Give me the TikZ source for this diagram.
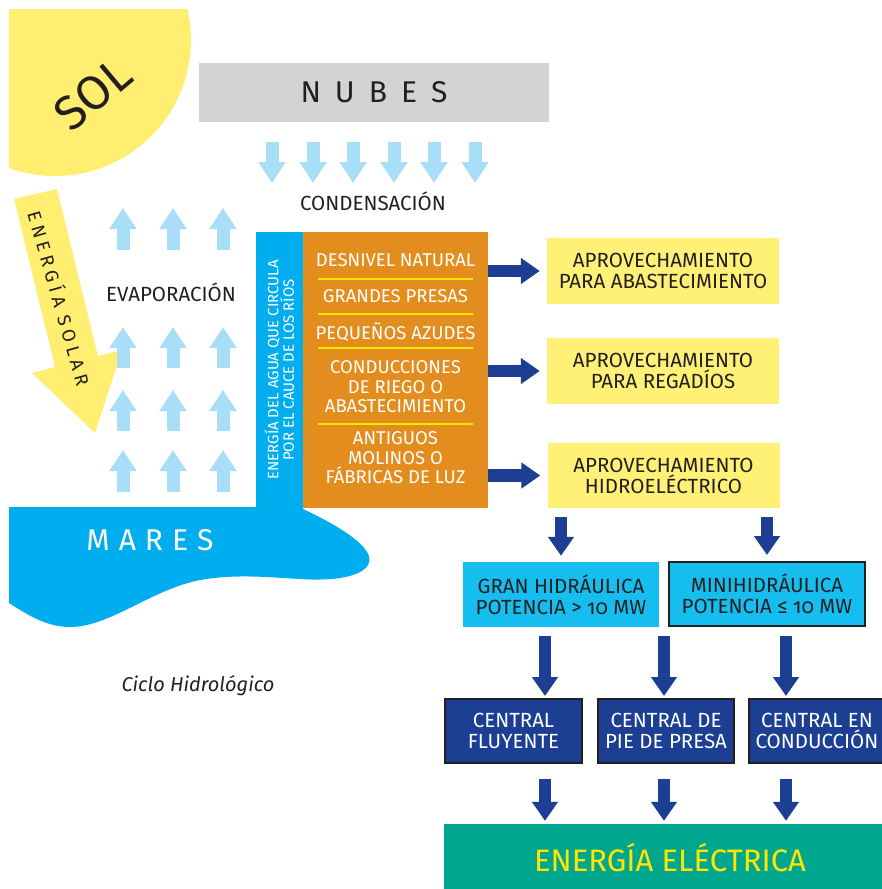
\documentclass[tikz,border=0pt]{standalone}
\usepackage{fontspec}
\setmainfont{Fira Sans}[Numbers=OldStyle]
\usetikzlibrary{arrows.meta}

\definecolor{sunyellow}{RGB}{255,238,112}
\definecolor{cloudgray}{RGB}{209,211,212}
\definecolor{skyblue}{RGB}{168,222,248}
\definecolor{riverblue}{RGB}{0,174,239}
\definecolor{usesorange}{RGB}{227,141,30}
\definecolor{lineyellow}{RGB}{255,230,0}
\definecolor{darkblue}{RGB}{28,63,148}
\definecolor{boxyellow}{RGB}{255,241,118}
\definecolor{hydroblue}{RGB}{22,190,240}
\definecolor{elecgreen}{RGB}{0,167,142}
\definecolor{textdark}{RGB}{35,31,32}

\newcommand{\lblfont}{\fontsize{20.5}{21}\selectfont}
\newcommand{\usofont}{\fontsize{18.5}{19.5}\selectfont}
\newcommand{\lsp}{\kern14pt}

\begin{document}
\begin{tikzpicture}[x=1pt,y=-1pt,
    lbl/.style={align=center,text=textdark,font=\lblfont},
    box/.style={lbl,rectangle,inner sep=0pt},
    uso/.style={align=center,text=white,font=\usofont},
    usebox/.style={box,fill=boxyellow,minimum width=232pt,minimum height=66pt},
    plantbox/.style={box,fill=darkblue,draw=textdark,line width=2pt,text=white,minimum height=64pt},
    sep/.style={draw=lineyellow,line width=2.5pt},
    bigarrow/.style={draw=darkblue,line width=12.5pt,-{Triangle[width=25pt,length=19pt]}},
    skyarrow/.style={draw=skyblue,line width=13pt,-{Triangle[width=26pt,length=21pt]}}]
        \useasboundingbox (0,0) rectangle (882,889);
        % sol
        \begin{scope}
        \clip (9,9) rectangle (882,889);
        \fill[sunyellow] (55,40) circle (136pt);
        \end{scope}
        \node[rotate=40,text=textdark,font=\fontsize{48}{48}\selectfont] (sol) at (93,94) {SOL};
        % energia solar
        \fill[sunyellow] (14,199) -- (57,189) -- (98,356) -- (122,350) -- (95,433) -- (32,373) -- (55,367) -- cycle;
        \node[rotate=-74,text=textdark,font=\fontsize{18.5}{18.5}\selectfont\addfontfeatures{LetterSpace=25}] (esolar) at (60,298) {ENERGÍA SOLAR};
        % nubes
        \node[box,fill=cloudgray,minimum width=350pt,minimum height=59pt,font=\fontsize{30}{30}\selectfont] (nubes) at (374,92.5) {N\lsp U\lsp B\lsp E\lsp S};
        \foreach \x in {272,313,353,394,434,475}
            \draw[skyarrow] (\x,142) -- (\x,183);
        \node[lbl] (condens) at (373,201) {CONDENSACIÓN};
        % evaporacion
        \foreach \x in {123,173,223} {
            \draw[skyarrow] (\x,250) -- (\x,208);
            \draw[skyarrow] (\x,368) -- (\x,327);
            \draw[skyarrow] (\x,431) -- (\x,390);
            \draw[skyarrow] (\x,492) -- (\x,450);
        }
        \node[lbl] (evapor) at (171,292) {EVAPORACIÓN};
        % mares
        \fill[riverblue] (9,507) -- (303,507) -- (303,509) .. controls (335,524) and (378,548) .. (368,565)
            .. controls (360,578) and (330,581) .. (300,579) .. controls (265,577) and (235,574) .. (200,580)
            .. controls (150,590) and (110,627) .. (70,627) .. controls (45,627) and (25,613) .. (9,603) -- cycle;
        \node[text=white,font=\fontsize{30}{30}\selectfont] (mares) at (150,540) {M\kern9pt A\kern9pt R\kern9pt E\kern9pt S};
        % cauce
        \node[box,fill=riverblue,minimum width=47pt,minimum height=276pt] (cauce) at (279.5,370) {};
        \node[rotate=90,align=center,text=white,font=\fontsize{15}{15.5}\selectfont] (caucetxt) at (cauce.center)
            {ENERGÍA DEL AGUA QUE CIRCULA\\POR EL CAUCE DE LOS RÍOS};
        \node[box,fill=usesorange,minimum width=185pt,minimum height=276pt] (usos) at (395.5,370) {};
        \node[uso] (desnivel) at (395.5,260) {DESNIVEL NATURAL};
        \node[uso] (presas) at (395.5,296) {GRANDES PRESAS};
        \node[uso] (azudes) at (395.5,332) {PEQUEÑOS AZUDES};
        \node[uso] (conducc) at (395.5,387) {CONDUCCIONES\\DE RIEGO O\\ABASTECIMIENTO};
        \node[uso] (molinos) at (395.5,458) {ANTIGUOS\\MOLINOS O\\FÁBRICAS DE LUZ};
        \foreach \y in {279,314,348,424}
            \draw[sep] (318,\y) -- (473,\y);
        % aprovechamientos
        \node[usebox] (abast) at (663,271) {APROVECHAMIENTO\\PARA ABASTECIMIENTO};
        \node[usebox] (regad) at (663,371) {APROVECHAMIENTO\\PARA REGADÍOS};
        \node[usebox,minimum height=65pt] (hidro) at (663.5,475.5) {APROVECHAMIENTO\\HIDROELÉCTRICO};
        \draw[bigarrow,shorten >=7pt] (usos.east |- abast.west) -- (abast.west);
        \draw[bigarrow,shorten >=7pt] (usos.east |- regad.west) -- (regad.west);
        \draw[bigarrow,shorten >=7pt] (usos.east |- hidro.west) -- (hidro.west);
        % hidraulica
        \node[box,fill=hydroblue,minimum width=196pt,minimum height=65pt] (gran) at (561,594.5) {GRAN HIDRÁULICA\\POTENCIA > 10 MW};
        \node[box,fill=hydroblue,draw=textdark,line width=2pt,minimum width=196pt,minimum height=64pt] (mini) at (767,594) {MINIHIDRÁULICA\\POTENCIA ≤ 10 MW};
        \draw[bigarrow,shorten <=9pt,shorten >=6pt] (gran.north |- hidro.south) -- (gran.north);
        \draw[bigarrow,shorten <=9pt,shorten >=6pt] (mini.north |- hidro.south) -- (mini.north);
        % centrales
        \node[plantbox,minimum width=137pt] (fluy) at (513.5,731) {CENTRAL\\FLUYENTE};
        \node[plantbox,minimum width=136pt] (pie) at (666,731) {CENTRAL DE\\PIE DE PRESA};
        \node[plantbox,minimum width=136pt] (cond) at (817,731) {CENTRAL EN\\CONDUCCIÓN};
        \coordinate (lane1) at (545,0);
        \coordinate (lane2) at (664,0);
        \coordinate (lane3) at (786,0);
        \draw[bigarrow,shorten <=9pt,shorten >=2pt] (lane1 |- gran.south) -- (lane1 |- fluy.north);
        \draw[bigarrow,shorten <=9pt,shorten >=2pt] (lane2 |- gran.south) -- (lane2 |- pie.north);
        \draw[bigarrow,shorten <=9pt,shorten >=2pt] (lane3 |- mini.south) -- (lane3 |- cond.north);
        % energia electrica
        \node[box,fill=elecgreen,text=lineyellow,minimum width=452pt,minimum height=68pt,font=\fontsize{31}{31}\selectfont] (elec) at (670,858) {ENERGÍA ELÉCTRICA};
        \draw[bigarrow,shorten <=15pt,shorten >=3pt] (lane1 |- fluy.south) -- (lane1 |- elec.north);
        \draw[bigarrow,shorten <=15pt,shorten >=3pt] (lane2 |- pie.south) -- (lane2 |- elec.north);
        \draw[bigarrow,shorten <=15pt,shorten >=3pt] (lane3 |- cond.south) -- (lane3 |- elec.north);
        \node[text=textdark,font=\fontsize{20}{21}\selectfont\itshape] (ciclo) at (198,686) {Ciclo Hidrológico};
\end{tikzpicture}
\end{document}
